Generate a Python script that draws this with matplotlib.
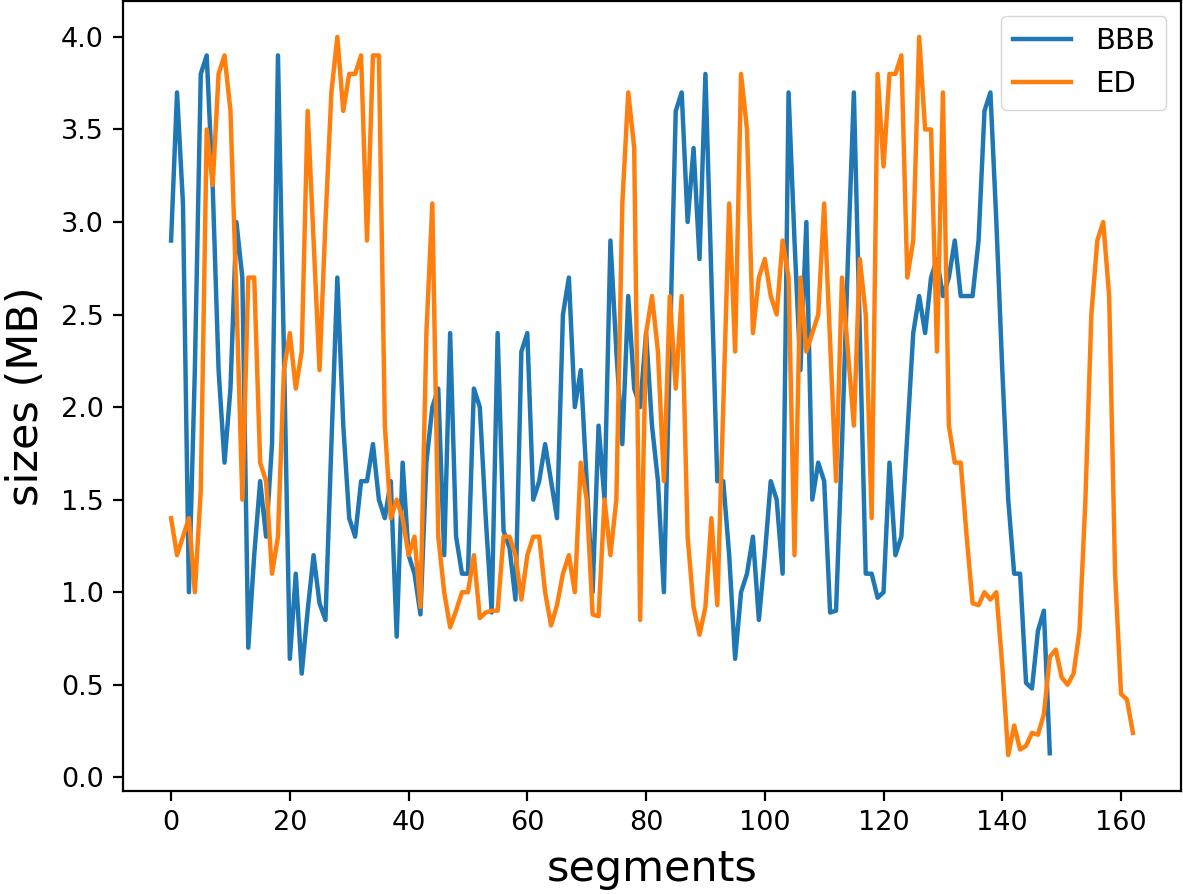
import matplotlib
matplotlib.use("Agg")
import matplotlib.pyplot as plt

bbb = [2.9, 3.7, 3.1, 1.0, 2.2, 3.8, 3.9, 3.2, 2.2, 1.7,
       2.1, 3.0, 2.7, 0.7, 1.2, 1.6, 1.3, 1.8, 3.9, 2.3,
       0.64, 1.1, 0.56, 0.9, 1.2, 0.94, 0.85, 1.8, 2.7, 1.9,
       1.4, 1.3, 1.6, 1.6, 1.8, 1.5, 1.4, 1.6, 0.76, 1.7,
       1.2, 1.1, 0.88, 1.7, 2.0, 2.1, 1.2, 2.4, 1.3, 1.1,
       1.1, 2.1, 2.0, 1.4, 0.89, 2.4, 1.33, 1.24, 0.96, 2.3,
       2.4, 1.5, 1.6, 1.8, 1.6, 1.4, 2.5, 2.7, 2.0, 2.2,
       1.6, 1.0, 1.9, 1.5, 2.9, 2.3, 1.8, 2.6, 2.1, 2.0,
       2.4, 1.9, 1.6, 1.0, 2.3, 3.6, 3.7, 3.0, 3.4, 2.8,
       3.8, 2.7, 1.6, 1.6, 1.2, 0.64, 1.0, 1.1, 1.3, 0.85,
       1.2, 1.6, 1.5, 1.1, 3.7, 2.9, 2.2, 3.0, 1.5, 1.7,
       1.6, 0.89, 0.9, 1.8, 2.8, 3.7, 2.4, 1.1, 1.1, 0.97,
       1.0, 1.7, 1.2, 1.3, 1.85, 2.4, 2.6, 2.4, 2.7, 2.8,
       2.6, 2.7, 2.9, 2.6, 2.6, 2.6, 2.9, 3.6, 3.7, 3.0,
       2.2, 1.5, 1.1, 1.1, 0.51, 0.48, 0.79, 0.9, 0.13]

ed = [1.4, 1.2, 1.3, 1.4, 1.0, 1.55, 3.5, 3.2, 3.8, 3.9,
      3.6, 2.6, 1.5, 2.7, 2.7, 1.7, 1.6, 1.1, 1.3, 2.2,
      2.4, 2.1, 2.3, 3.6, 2.9, 2.2, 3.0, 3.7, 4.0, 3.6,
      3.8, 3.8, 3.9, 2.9, 3.9, 3.9, 1.9, 1.4, 1.5, 1.4,
      1.2, 1.3, 0.92, 2.4, 3.1, 1.3, 1.0, 0.81, 0.9, 1.0,
      1.0, 1.2, 0.86, 0.89, 0.9, 0.9, 1.3, 1.3, 1.2, 0.96,
      1.2, 1.3, 1.3, 1.0, 0.82, 0.93, 1.1, 1.2, 1.0, 1.7,
      1.5, 0.88, 0.87, 1.5, 1.2, 1.5, 3.1, 3.7, 3.4, 0.85,
      2.4, 2.6, 2.3, 1.6, 2.6, 2.1, 2.6, 1.3, 0.92, 0.77,
      0.92, 1.4, 0.93, 2.0, 3.1, 2.3, 3.8, 3.5, 2.4, 2.7,
      2.8, 2.6, 2.5, 2.9, 2.7, 1.2, 2.7, 2.3, 2.4, 2.5,
      3.1, 2.35, 1.6, 2.7, 2.3, 1.9, 2.8, 2.5, 1.4, 3.8,
      3.3, 3.8, 3.8, 3.9, 2.7, 2.9, 4.0, 3.5, 3.5, 2.3,
      3.7, 1.9, 1.7, 1.7, 1.3, 0.94, 0.93, 1.0, 0.96, 1.0,
      0.6, 0.12, 0.28, 0.15, 0.17, 0.24, 0.23, 0.34, 0.65, 0.69,
      0.54, 0.50, 0.56, 0.79, 1.5, 2.5, 2.9, 3.0, 2.6, 1.1,
      0.45, 0.42, 0.24]

series_names = ["BBB", "ED"]
x_label = "segments"
y_label = "sizes (MB)"

W, H = 1183, 894
fig = plt.figure(figsize=(W / 100, H / 100), dpi=100)
ax = fig.add_axes([123 / W, (H - 791) / H, (1181 - 123) / W, 790 / H])

ax.plot(range(len(bbb)), bbb, color="#1f77b4", lw=3.2, label=series_names[0])
ax.plot(range(len(ed)), ed, color="#ff7f0e", lw=3.2, label=series_names[1])

ax.set_xlabel(x_label, fontsize=31, labelpad=8)
ax.set_ylabel(y_label, fontsize=31, labelpad=10)
ax.tick_params(axis="both", labelsize=19.5, length=7, width=1.6, pad=7)
for s in ax.spines.values():
    s.set_linewidth(1.6)

ax.legend(loc="upper right", fontsize=21, handlelength=2.0)

fig.savefig("out.png", dpi=100)
